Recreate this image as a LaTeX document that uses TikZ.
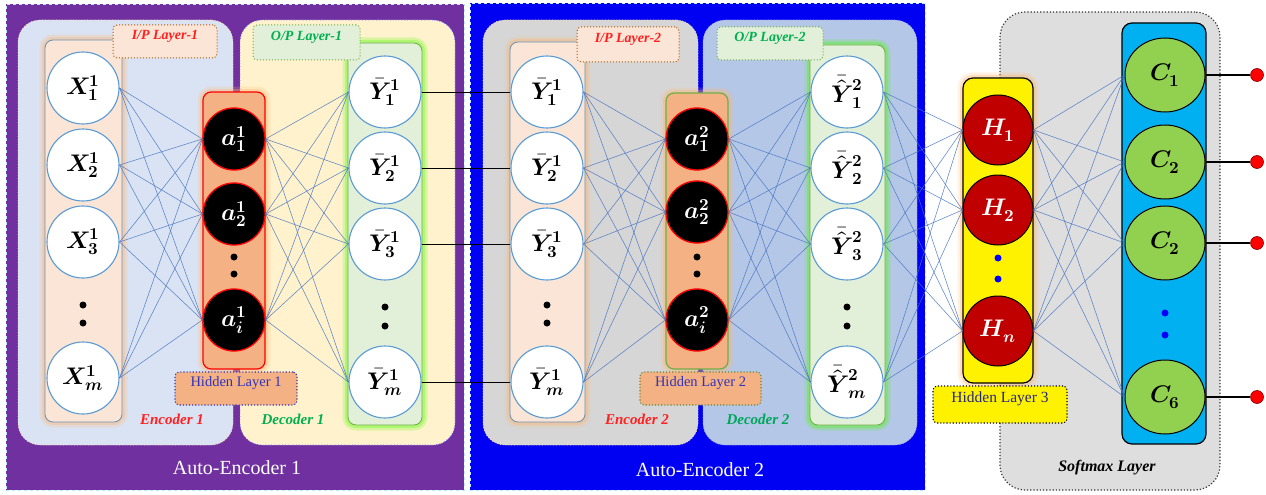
\documentclass[tikz,border=0pt]{standalone}
\usepackage{fontspec}
\usepackage{unicode-math}
\setmainfont{Liberation Serif}
\setmathfont{Latin Modern Math}
\usetikzlibrary{shapes.geometric,fit}
\definecolor{aepurple}{HTML}{7030A0}
\definecolor{aeblue}{HTML}{0000F2}
\definecolor{encblue}{HTML}{DAE3F3}
\definecolor{decyellow}{HTML}{FFF2CC}
\definecolor{peach}{HTML}{FBE5D6}
\definecolor{lgreen}{HTML}{E2F0D9}
\definecolor{horange}{HTML}{F4B183}
\definecolor{egray}{HTML}{D6D6D6}
\definecolor{dsteel}{HTML}{B4C7E7}
\definecolor{ringblue}{HTML}{5B9BD5}
\definecolor{linkblue}{HTML}{4472C4}
\definecolor{okgreen}{HTML}{70AD47}
\definecolor{txgreen}{HTML}{00B050}
\definecolor{hred}{HTML}{C00000}
\definecolor{ccyan}{HTML}{00B0F0}
\definecolor{cgreen}{HTML}{92D050}
\definecolor{tagblue}{HTML}{3333B8}
\definecolor{softgray}{HTML}{DEDEDE}
\definecolor{tagred}{HTML}{FF2020}
\newcommand{\Yb}{\bar{\symbfit{Y}}}
\newcommand{\Yh}{\bar{\hat{\symbfit{Y}}}{\vphantom{\symbfit{Y}}}}
\tikzset{
  panel/.style={draw=white!75!cyan, dashed, line width=0.7pt, inner sep=0pt},
  halfbox/.style={rounded corners=22pt, inner sep=0pt, line width=0.8pt},
  column/.style={rounded corners=8pt, inner sep=0pt, line width=0.8pt},
  glowO/.style={preaction={draw=orange!55, line width=11pt, draw opacity=0.2},
                preaction={draw=orange!60, line width=6pt, draw opacity=0.3}},
  glowG/.style={preaction={draw=green!70!yellow, line width=11pt, draw opacity=0.2},
                preaction={draw=green!70!yellow, line width=6pt, draw opacity=0.3}},
  tag/.style={rounded corners=4pt, dotted, line width=1pt, inner sep=0pt,
    font=\fontsize{14}{16}\selectfont\bfseries\itshape},
  htag/.style={rounded corners=4pt, dotted, line width=1.1pt, inner sep=0pt,
    font=\fontsize{14.5}{16}\selectfont},
  inode/.style={circle, draw=ringblue, line width=1.1pt, fill=white, minimum size=72pt,
    inner sep=0pt, font=\fontsize{24}{26}\selectfont},
  anode/.style={circle, draw=red, line width=1.3pt, fill=black, text=white, minimum size=62pt,
    inner sep=0pt, font=\fontsize{24}{26}\selectfont},
  Hnode/.style={circle, draw=black, line width=1pt, fill=hred, text=white, minimum size=70pt,
    inner sep=0pt, font=\fontsize{24}{26}\selectfont},
  cnode/.style={ellipse, draw=black, line width=1pt, fill=cgreen, minimum width=80pt,
    minimum height=74pt, inner sep=0pt, font=\fontsize{24}{26}\selectfont},
  term/.style={circle, fill=red, draw=red!50!black, line width=0.6pt, minimum size=13pt, inner sep=0pt},
  link/.style={draw=linkblue, line width=0.55pt, draw opacity=0.85},
  bridge/.style={draw=black, line width=0.8pt},
  outlink/.style={draw=black, line width=2pt},
  seclabel/.style={font=\fontsize{15}{17}\selectfont\bfseries\itshape},
  aelabel/.style={text=white, font=\fontsize{20}{22}\selectfont},
}
\begin{document}
\begin{tikzpicture}[x=1pt,y=-1pt]
\useasboundingbox (0,0) rectangle (1266,495);
\fill[white] (0,0) rectangle (1266,495);
% ---------- big panels
\node[panel, fill=aepurple, fit={(6,4) (464,490)}] (ae1) {};
\node[panel, fill=aeblue, fit={(470,3) (925,490)}] (ae2) {};
\node[rounded corners=25pt, draw=black!80, dotted, line width=1.2pt, fill=softgray,
      inner sep=0pt, fit={(1000,12) (1220,490)}] (smx) {};
% ---------- auto-encoder 1
\node[halfbox, fill=encblue, draw=orange!35, dotted, fit={(18,20) (233,445)}] (enc1) {};
\node[halfbox, fill=decyellow, draw=blue!60, dotted, fit={(240,20) (455,445)}] (dec1) {};
\node[column, glowO, fill=peach, draw=ringblue!60!gray, fit={(45,40) (122,422)}] (in1) {};
\node[column, glowG, fill=lgreen, draw=okgreen, fit={(348,43) (422,425)}] (out1) {};
\node[column, glowO, fill=horange, draw=red, line width=1.2pt, fit={(203,92) (265,369)}] (hid1) {};
% ---------- auto-encoder 2
\node[halfbox, fill=egray, draw=orange!35, dotted, fit={(483,20) (698,445)}] (enc2) {};
\node[halfbox, fill=dsteel, draw=blue!40, dotted, fit={(703,20) (917,445)}] (dec2) {};
\node[column, glowO, fill=peach, draw=ringblue!60!gray, fit={(510,42) (585,422)}] (in2) {};
\node[column, glowG, fill=lgreen, draw=okgreen, fit={(810,45) (885,425)}] (out2) {};
\node[column, glowO, fill=horange, draw=okgreen, line width=1.2pt, fit={(666,93) (728,369)}] (hid2) {};
% ---------- softmax part
\node[column, rounded corners=10pt, glowO, fill=yellow, draw=black, line width=1.2pt, fit={(963,78) (1033,383)}] (hid3) {};
\node[column, rounded corners=10pt, fill=ccyan, draw=black, line width=1.2pt, fit={(1122,23) (1206,444)}] (ccol) {};
% ---------- neurons AE1
\node[inode] (x1) at (83,88)  {$\symbfit{X}^{\symbf{1}}_{\symbf{1}}$};
\node[inode] (x2) at (83,165) {$\symbfit{X}^{\symbf{1}}_{\symbf{2}}$};
\node[inode] (x3) at (83,242) {$\symbfit{X}^{\symbf{1}}_{\symbf{3}}$};
\node[inode] (xm) at (83,378) {$\symbfit{X}^{\symbf{1}}_{\symbfit{m}}$};
\node[anode] (a1) at (234,139) {$\symbfit{a}^{\symbf{1}}_{\symbf{1}}$};
\node[anode] (a2) at (234,214) {$\symbfit{a}^{\symbf{1}}_{\symbf{2}}$};
\node[anode] (ai) at (234,320) {$\symbfit{a}^{\symbf{1}}_{\symbfit{i}}$};
\node[inode] (y1) at (385,92)  {$\Yb^{\symbf{1}}_{\symbf{1}}$};
\node[inode] (y2) at (385,168) {$\Yb^{\symbf{1}}_{\symbf{2}}$};
\node[inode] (y3) at (385,244) {$\Yb^{\symbf{1}}_{\symbf{3}}$};
\node[inode] (ym) at (385,382) {$\Yb^{\symbf{1}}_{\symbfit{m}}$};
% ---------- neurons AE2
\node[inode] (p1) at (547,92)  {$\Yb^{\symbf{1}}_{\symbf{1}}$};
\node[inode] (p2) at (547,168) {$\Yb^{\symbf{1}}_{\symbf{2}}$};
\node[inode] (p3) at (547,244) {$\Yb^{\symbf{1}}_{\symbf{3}}$};
\node[inode] (pm) at (547,382) {$\Yb^{\symbf{1}}_{\symbfit{m}}$};
\node[anode] (b1) at (697,139) {$\symbfit{a}^{\symbf{2}}_{\symbf{1}}$};
\node[anode] (b2) at (697,212) {$\symbfit{a}^{\symbf{2}}_{\symbf{2}}$};
\node[anode] (bi) at (697,320) {$\symbfit{a}^{\symbf{2}}_{\symbfit{i}}$};
\node[inode] (q1) at (847,92)  {$\Yh^{\symbf{2}}_{\symbf{1}}$};
\node[inode] (q2) at (847,168) {$\Yh^{\symbf{2}}_{\symbf{2}}$};
\node[inode] (q3) at (847,244) {$\Yh^{\symbf{2}}_{\symbf{3}}$};
\node[inode] (qm) at (847,382) {$\Yh^{\symbf{2}}_{\symbfit{m}}$};
% ---------- hidden 3 and softmax
\node[Hnode] (h1) at (998,130) {$\symbfit{H}_{\symbf{1}}$};
\node[Hnode] (h2) at (998,210) {$\symbfit{H}_{\symbf{2}}$};
\node[Hnode] (hn) at (998,331) {$\symbfit{H}_{\symbfit{n}}$};
\node[cnode] (c1) at (1165,75)  {$\symbfit{C}_{\symbf{1}}$};
\node[cnode] (c2) at (1165,162) {$\symbfit{C}_{\symbf{2}}$};
\node[cnode] (c3) at (1165,243) {$\symbfit{C}_{\symbf{2}}$};
\node[cnode] (c6) at (1165,397) {$\symbfit{C}_{\symbf{6}}$};
\node[term] (t1) at (1257,75) {};
\node[term] (t2) at (1257,162) {};
\node[term] (t3) at (1257,243) {};
\node[term] (t6) at (1257,397) {};
% ---------- ellipsis dots
\foreach \x/\a/\b in {83/305/323, 234/257/274, 385/307/326, 547/305/323, 697/257/274, 847/307/326}
  {\fill[black] (\x,\a) circle (3.5); \fill[black] (\x,\b) circle (3.5);}
\foreach \x/\a/\b in {998/258/279, 1165/313/335}
  {\fill[blue] (\x,\a) circle (3.5); \fill[blue] (\x,\b) circle (3.5);}
% ---------- connections
\foreach \s in {x1,x2,x3,xm} \foreach \t in {a1,a2,ai} \draw[link] (\s.east) -- (\t.west);
\foreach \s in {a1,a2,ai} \foreach \t in {y1,y2,y3,ym} \draw[link] (\s.east) -- (\t.west);
\foreach \s in {p1,p2,p3,pm} \foreach \t in {b1,b2,bi} \draw[link] (\s.east) -- (\t.west);
\foreach \s in {b1,b2,bi} \foreach \t in {q1,q2,q3,qm} \draw[link] (\s.east) -- (\t.west);
\foreach \s in {q1,q2,q3,qm} \foreach \t in {h1,h2,hn} \draw[link] (\s.east) -- (\t.west);
\foreach \s in {h1,h2,hn} \foreach \t in {c1,c2,c3,c6} \draw[link] (\s.east) -- (\t.west);
\draw[bridge] (y1.east) -- (p1.west);
\draw[bridge] (y2.east) -- (p2.west);
\draw[bridge] (y3.east) -- (p3.west);
\draw[bridge] (ym.east) -- (pm.west);
\draw[outlink] (c1.east) -- (t1.west);
\draw[outlink] (c2.east) -- (t2.west);
\draw[outlink] (c3.east) -- (t3.west);
\draw[outlink] (c6.east) -- (t6.west);
% ---------- tags and labels
\node[tag, fill=peach, draw=orange!70!black, text=tagred, fit={(113,25) (217,58)}] (ip1) {I/P Layer-1};
\node[tag, fill=lgreen, draw=okgreen, text=txgreen, fit={(253,25) (360,60)}] (op1) {O/P Layer-1};
\node[htag, fill=horange, draw=tagblue, text=tagblue, fit={(175,372) (297,405)}] (hl1) {Hidden Layer 1};
\node[tag, fill=peach, draw=orange!70!black, text=tagred, fit={(577,27) (679,62)}] (ip2) {I/P Layer-2};
\node[tag, fill=lgreen, draw=okgreen, text=txgreen, fit={(717,27) (823,60)}] (op2) {O/P Layer-2};
\node[htag, fill=horange, draw=okgreen!80!black, text=tagblue, fit={(640,372) (761,405)}] (hl2) {Hidden Layer 2};
\node[htag, font=\fontsize{15.5}{17}\selectfont, fill=yellow, draw=black, text=tagblue!70!black, fit={(933,386) (1067,423)}] (hl3) {Hidden Layer 3};
\node[seclabel, text=tagred] (e1) at (172,419) {Encoder 1};
\node[seclabel, text=txgreen] (d1) at (293,419) {Decoder 1};
\node[seclabel, text=tagred] (e2) at (637,419) {Encoder 2};
\node[seclabel, text=txgreen!80!teal] (d2) at (758,419) {Decoder 2};
\node[aelabel] (l1) at (237,468) {Auto-Encoder 1};
\node[aelabel] (l2) at (700,470) {Auto-Encoder 2};
\node[font=\fontsize{16}{18}\selectfont\bfseries\itshape] (l3) at (1107,468) {Softmax Layer};
\end{tikzpicture}
\end{document}
